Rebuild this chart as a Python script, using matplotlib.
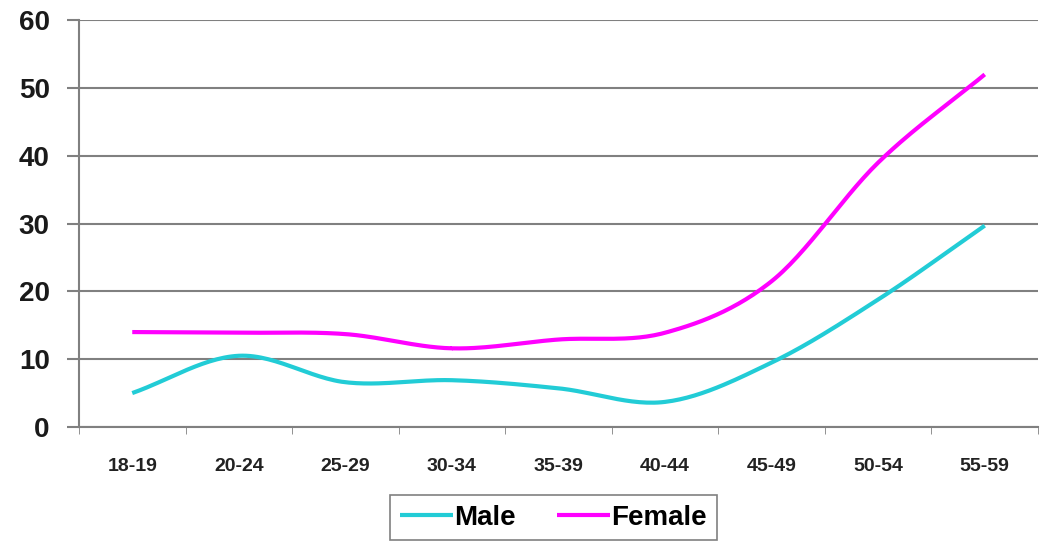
import numpy as np
import matplotlib
matplotlib.use("Agg")
import matplotlib.pyplot as plt

plt.rcParams['font.family'] = ['Liberation Sans', 'DejaVu Sans']

# 数据
age_groups = ['18-19', '20-24', '25-29', '30-34', '35-39', '40-44', '45-49', '50-54', '55-59']
male = [5.0, 10.5, 6.6, 6.9, 5.7, 3.7, 9.5, 18.8, 29.7]
female = [14.0, 13.9, 13.7, 11.6, 12.9, 13.9, 21.5, 39.0, 52.0]


# 平滑曲线 (Catmull-Rom, 类似 Excel 的平滑线)
def smooth(x, y, n=30):
    x = np.asarray(x, float)
    y = np.asarray(y, float)
    px = np.concatenate([[2 * x[0] - x[1]], x, [2 * x[-1] - x[-2]]])
    py = np.concatenate([[2 * y[0] - y[1]], y, [2 * y[-1] - y[-2]]])
    xs, ys = [], []
    t = np.linspace(0, 1, n)
    for i in range(1, len(px) - 2):
        for p, out in ((px, xs), (py, ys)):
            p0, p1, p2, p3 = p[i - 1], p[i], p[i + 1], p[i + 2]
            out.append(0.5 * ((2 * p1) + (-p0 + p2) * t
                              + (2 * p0 - 5 * p1 + 4 * p2 - p3) * t ** 2
                              + (-p0 + 3 * p1 - 3 * p2 + p3) * t ** 3))
    return np.concatenate(xs), np.concatenate(ys)


fig = plt.figure(figsize=(10.5, 5.46), dpi=100)
ax = fig.add_axes([0.0752, 0.218, 0.9134, 0.745])

x = np.arange(len(age_groups))
mx, my = smooth(x, male)
fx, fy = smooth(x, female)
ax.plot(mx, my, color='#22CCD6', lw=3, label='Male', solid_capstyle='butt')
ax.plot(fx, fy, color='#FF00FF', lw=3, label='Female', solid_capstyle='butt')

ax.set_xlim(-0.5, len(age_groups) - 0.5)
ax.set_ylim(0, 60)
ax.set_yticks(range(0, 61, 10))
ax.set_yticklabels([str(v) for v in range(0, 61, 10)], fontsize=20, fontweight='bold',
                   color='#1a1a1a')
ax.yaxis.grid(True, color='#808080', lw=1.5)
ax.set_axisbelow(True)

ax.set_xticks(x)
ax.set_xticklabels(age_groups, fontsize=14, fontweight='bold', color='#222222')
ax.set_xticks(np.arange(-0.5, len(age_groups), 1), minor=True)
ax.tick_params(axis='x', which='major', length=0, pad=22)
ax.tick_params(axis='x', which='minor', length=5, color='#808080', direction='out')
ax.tick_params(axis='y', length=9, color='#808080', width=1.5, pad=12)

for s in ['top', 'right']:
    ax.spines[s].set_visible(False)
for s in ['left', 'bottom']:
    ax.spines[s].set_color('#808080')
    ax.spines[s].set_linewidth(1.5)

leg = fig.legend(loc='upper center', bbox_to_anchor=(0.527, 1 - 495 / 546), ncol=2,
                 frameon=True, fancybox=False, handlelength=1.9, handletextpad=0.05,
                 columnspacing=1.5, prop={'size': 20, 'weight': 'bold'},
                 borderpad=0.35, borderaxespad=0)
leg.get_frame().set_edgecolor('#606060')
leg.get_frame().set_linewidth(1.2)

fig.savefig('out.png', dpi=100)
